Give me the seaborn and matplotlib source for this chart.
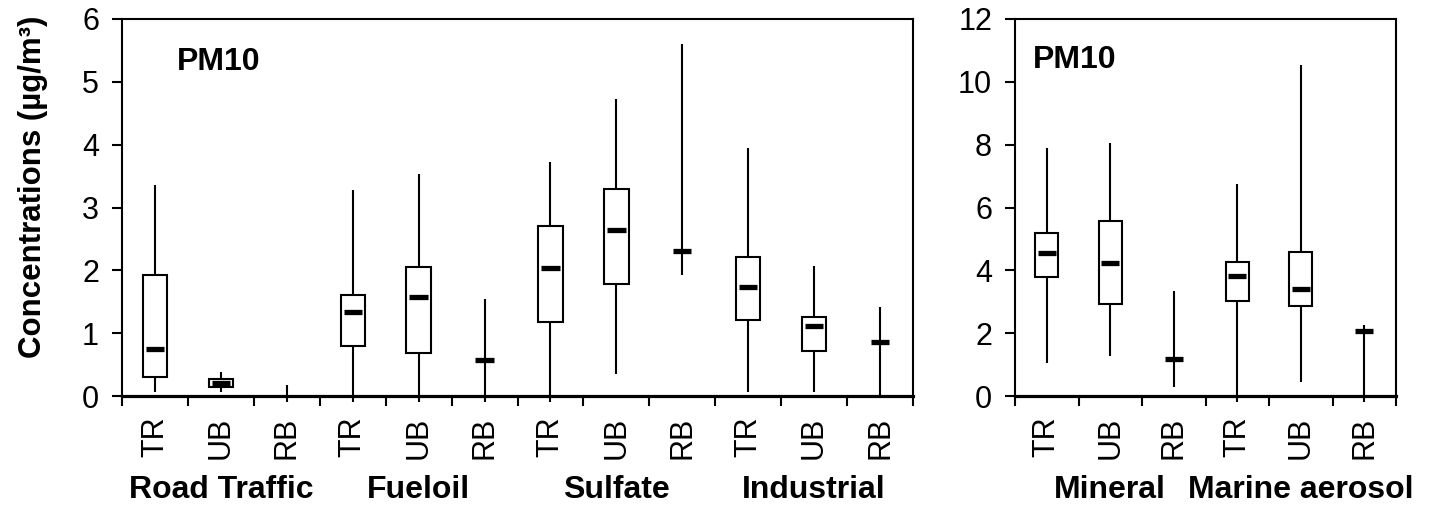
import numpy as np
import pandas as pd
import matplotlib
matplotlib.use("Agg")
import matplotlib.pyplot as plt
import matplotlib.transforms as mtransforms
import seaborn as sns

# Site types shown under every source
sites = ["TR", "UB", "RB"]

# Left panel: source contributions (µg/m³), one entry per source/site
left_groups = ["Road Traffic", "Fueloil", "Sulfate", "Industrial"]
left_min = [0.07, 0.07, -0.10, -0.10, -0.10, -0.10, -0.10, 0.35, 1.93, 0.06, 0.06, 0.00]
left_q1 = [0.31, 0.14, 0.00, 0.80, 0.68, 0.58, 1.17, 1.79, 2.31, 1.21, 0.72, 0.86]
left_med = [0.75, 0.20, 0.00, 1.33, 1.57, 0.58, 2.03, 2.64, 2.31, 1.73, 1.11, 0.86]
left_q3 = [1.93, 0.27, 0.00, 1.60, 2.05, 0.58, 2.71, 3.29, 2.31, 2.21, 1.26, 0.86]
left_max = [3.36, 0.38, 0.17, 3.28, 3.53, 1.54, 3.73, 4.72, 5.60, 3.94, 2.07, 1.42]

# Right panel
right_groups = ["Mineral", "Marine aerosol"]
right_min = [1.04, 1.27, 0.30, -0.20, 0.46, -0.20]
right_q1 = [3.78, 2.93, 1.17, 3.01, 2.86, 2.07]
right_med = [4.54, 4.22, 1.17, 3.81, 3.40, 2.07]
right_q3 = [5.18, 5.58, 1.17, 4.26, 4.59, 2.07]
right_max = [7.88, 8.04, 3.34, 6.74, 10.52, 2.26]

panel_title = "PM10"
y_label = "Concentrations (µg/m³)"

sns.set_theme(style="ticks")
plt.rcParams["font.family"] = ["Liberation Sans", "DejaVu Sans"]
plt.rcParams["axes.edgecolor"] = "black"
plt.rcParams["xtick.color"] = "black"
plt.rcParams["ytick.color"] = "black"
plt.rcParams["text.color"] = "black"


def five_number_frame(groups, mins, q1s, meds, q3s, maxs):
    """Long table whose 25/50/75th percentiles and extremes are the given stats."""
    rows = []
    keys = []
    i = 0
    for g in groups:
        for s in sites:
            key = f"{g}|{s}"
            keys.append(key)
            for v in (mins[i], q1s[i], meds[i], q3s[i], maxs[i]):
                rows.append({"key": key, "value": v})
            i += 1
    return pd.DataFrame(rows), keys


def draw_panel(ax, groups, stats, ymax, ystep):
    df, keys = five_number_frame(groups, *stats)
    n = len(keys)
    sns.boxplot(
        data=df, x="key", y="value", order=keys, ax=ax,
        width=0.37, color="white", linecolor="black", linewidth=1.5,
        whis=(0, 100), showcaps=False, fliersize=0, saturation=1,
        medianprops=dict(linewidth=3.8, solid_capstyle="butt"),
    )
    # whiskers may dip just below the axis; medians are a bit narrower than boxes
    for ln in ax.lines:
        xd = np.asarray(ln.get_xdata(), dtype=float)
        yd = np.asarray(ln.get_ydata(), dtype=float)
        ok = np.isfinite(xd)
        if ok.sum() < 2:
            continue
        xd_ok = xd[ok]
        if np.allclose(xd_ok, xd_ok[0]):
            ln.set_clip_on(False)
            ln.set_zorder(6)
        else:
            c = (xd_ok.min() + xd_ok.max()) / 2
            half = (xd_ok.max() - xd_ok.min()) / 2 * 0.75
            ln.set_xdata([c - half, c + half])
            # a median sitting on zero is hidden by the axis line
            if np.allclose(yd[np.isfinite(yd)], 0):
                ln.set_visible(False)
    for p in ax.patches:
        ext = p.get_path().get_extents()
        if ext.height == 0:
            p.set_visible(False)

    ax.set_xlim(-0.5, n - 0.5)
    ax.set_ylim(0, ymax)
    ax.set_yticks(np.arange(0, ymax + 0.001, ystep))
    ax.set_xticks(np.arange(n + 1) - 0.5)
    ax.set_xticklabels([])
    ax.set_xticks(np.arange(n), labels=sites * len(groups), minor=True)
    ax.tick_params(axis="x", which="major", length=7.5, width=1.5, direction="out")
    ax.tick_params(axis="x", which="minor", length=0, pad=15, labelsize=22,
                   labelrotation=90)
    ax.tick_params(axis="y", which="major", length=7.5, width=1.5, direction="out",
                   pad=9, labelsize=22)
    ax.set_xlabel("")
    ax.set_ylabel("")
    for side in ["left", "right", "top"]:
        ax.spines[side].set_visible(True)
        ax.spines[side].set_linewidth(1.5)
        ax.spines[side].set_color("black")
    ax.spines["bottom"].set_linewidth(2.3)
    ax.spines["bottom"].set_color("black")
    ax.spines["bottom"].set_zorder(5)

    trans = mtransforms.blended_transform_factory(ax.transData, ax.figure.transFigure)
    for gi, g in enumerate(groups):
        ax.text(gi * 3 + 1, 9 / 507, g, transform=trans, ha="center", va="baseline",
                fontsize=23, fontweight="bold")


W, H = 1447, 507
fig = plt.figure(figsize=(W / 100, H / 100), dpi=100)
axL = fig.add_axes([122 / W, 111 / H, 791 / W, 377 / H])
axR = fig.add_axes([1015 / W, 111 / H, 381 / W, 377 / H])

draw_panel(axL, left_groups, (left_min, left_q1, left_med, left_q3, left_max), 6, 1)
draw_panel(axR, right_groups, (right_min, right_q1, right_med, right_q3, right_max), 12, 2)

axL.text(0.0695, 0.865, panel_title, transform=axL.transAxes, fontsize=23,
         fontweight="bold", va="baseline")
axR.text(0.046, 0.87, panel_title, transform=axR.transAxes, fontsize=23,
         fontweight="bold", va="baseline")

fig.text(33 / W, 1 - 187 / H, y_label, rotation=90, ha="center", va="center",
         fontsize=22.5, fontweight="bold")

fig.savefig("out.png", dpi=100, facecolor="white")
